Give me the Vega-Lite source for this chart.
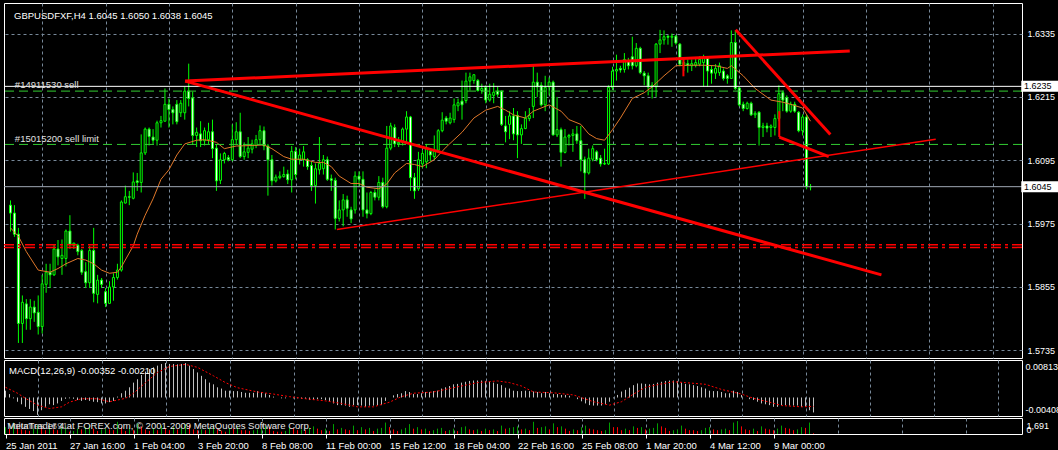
{
"$schema":"https://vega.github.io/schema/vega-lite/v6.json",
"background":"black",
"padding":{"left":2,"top":2,"right":0,"bottom":0},
"spacing":2,
"bounds":"flush",
"config":{
"view":{"stroke":"white","strokeWidth":1,"fill":"black"},
"font":"Liberation Sans",
"axis":{"labelColor":"white","labelFont":"Liberation Sans","labelFontSize":9,"gridColor":"#778899","gridDash":[3,3],"gridOpacity":1,"gridWidth":1,"domain":false,"ticks":false,"labelOverlap":false,"labelFlush":false,"labelBound":false},
"text":{"font":"Liberation Sans","fontSize":9.5}
},
"datasets":{
"bars":[
{"i":0,"o":1.6010,"h":1.6019,"l":1.5960,"c":1.5995,"m":0.0016,"v":900},
{"i":1,"o":1.5995,"h":1.6010,"l":1.5950,"c":1.5955,"m":0.0008,"v":700},
{"i":2,"o":1.5955,"h":1.5967,"l":1.5749,"c":1.5786,"m":-0.0002,"v":1500},
{"i":3,"o":1.5786,"h":1.5839,"l":1.5749,"c":1.5826,"m":-0.0010,"v":1100},
{"i":4,"o":1.5823,"h":1.5832,"l":1.5774,"c":1.5795,"m":-0.0016,"v":600},
{"i":5,"o":1.5795,"h":1.5832,"l":1.5774,"c":1.5817,"m":-0.0022,"v":500},
{"i":6,"o":1.5817,"h":1.5829,"l":1.5789,"c":1.5806,"m":-0.0027,"v":400},
{"i":7,"o":1.5807,"h":1.5839,"l":1.5765,"c":1.5780,"m":-0.0032,"v":700},
{"i":8,"o":1.5780,"h":1.5878,"l":1.5767,"c":1.5861,"m":-0.0041,"v":1200},
{"i":9,"o":1.5860,"h":1.5899,"l":1.5844,"c":1.5883,"m":-0.0030,"v":900},
{"i":10,"o":1.5883,"h":1.5899,"l":1.5853,"c":1.5878,"m":-0.0022,"v":500},
{"i":11,"o":1.5878,"h":1.5936,"l":1.5876,"c":1.5927,"m":-0.0016,"v":800},
{"i":12,"o":1.5927,"h":1.5944,"l":1.5896,"c":1.5912,"m":-0.0018,"v":600},
{"i":13,"o":1.5909,"h":1.5945,"l":1.5878,"c":1.5915,"m":-0.0014,"v":500},
{"i":14,"o":1.5909,"h":1.5964,"l":1.5894,"c":1.5961,"m":-0.0008,"v":900},
{"i":15,"o":1.5961,"h":1.5991,"l":1.5927,"c":1.5936,"m":-0.0003,"v":1000},
{"i":16,"o":1.5934,"h":1.5939,"l":1.5927,"c":1.5938,"m":-0.0002,"v":300},
{"i":17,"o":1.5934,"h":1.5937,"l":1.5915,"c":1.5922,"m":-0.0003,"v":400},
{"i":18,"o":1.5924,"h":1.5927,"l":1.5878,"c":1.5883,"m":-0.0006,"v":700},
{"i":19,"o":1.5884,"h":1.5902,"l":1.5853,"c":1.5863,"m":-0.0008,"v":600},
{"i":20,"o":1.5863,"h":1.5933,"l":1.5853,"c":1.5924,"m":-0.0006,"v":900},
{"i":21,"o":1.5924,"h":1.5967,"l":1.5826,"c":1.5843,"m":-0.0008,"v":1200},
{"i":22,"o":1.5841,"h":1.5878,"l":1.5824,"c":1.5868,"m":-0.0010,"v":700},
{"i":23,"o":1.5868,"h":1.5872,"l":1.5853,"c":1.5860,"m":-0.0011,"v":400},
{"i":24,"o":1.5846,"h":1.5853,"l":1.5817,"c":1.5824,"m":-0.0014,"v":600},
{"i":25,"o":1.5824,"h":1.5866,"l":1.5823,"c":1.5855,"m":-0.0014,"v":700},
{"i":26,"o":1.5855,"h":1.5881,"l":1.5829,"c":1.5873,"m":-0.0011,"v":600},
{"i":27,"o":1.5873,"h":1.5899,"l":1.5869,"c":1.5887,"m":-0.0008,"v":500},
{"i":28,"o":1.5887,"h":1.6019,"l":1.5884,"c":1.6016,"m":0.0002,"v":1600},
{"i":29,"o":1.6014,"h":1.6047,"l":1.6013,"c":1.6026,"m":0.0010,"v":900},
{"i":30,"o":1.6026,"h":1.6037,"l":1.6010,"c":1.6025,"m":0.0016,"v":400},
{"i":31,"o":1.6023,"h":1.6072,"l":1.6021,"c":1.6054,"m":0.0024,"v":800},
{"i":32,"o":1.6056,"h":1.6071,"l":1.6037,"c":1.6053,"m":0.0035,"v":500},
{"i":33,"o":1.6053,"h":1.6144,"l":1.6034,"c":1.6109,"m":0.0043,"v":1400},
{"i":34,"o":1.6109,"h":1.6157,"l":1.6105,"c":1.6154,"m":0.0053,"v":1000},
{"i":35,"o":1.6154,"h":1.6157,"l":1.6123,"c":1.6140,"m":0.0061,"v":600},
{"i":36,"o":1.6139,"h":1.6154,"l":1.6126,"c":1.6133,"m":0.0067,"v":400},
{"i":37,"o":1.6133,"h":1.6170,"l":1.6123,"c":1.6166,"m":0.0071,"v":800},
{"i":38,"o":1.6166,"h":1.6179,"l":1.6157,"c":1.6170,"m":0.0075,"v":500},
{"i":39,"o":1.6169,"h":1.6231,"l":1.6169,"c":1.6201,"m":0.0079,"v":1100},
{"i":40,"o":1.6201,"h":1.6212,"l":1.6157,"c":1.6191,"m":0.00813,"v":700},
{"i":41,"o":1.6191,"h":1.6197,"l":1.6163,"c":1.6185,"m":0.0079,"v":500},
{"i":42,"o":1.6201,"h":1.6209,"l":1.6163,"c":1.6168,"m":0.0079,"v":900},
{"i":43,"o":1.6185,"h":1.6209,"l":1.6177,"c":1.6203,"m":0.0078,"v":600},
{"i":44,"o":1.6185,"h":1.6234,"l":1.6172,"c":1.6226,"m":0.0079,"v":1000},
{"i":45,"o":1.6226,"h":1.6278,"l":1.6197,"c":1.6212,"m":0.0081,"v":1300},
{"i":46,"o":1.6213,"h":1.6225,"l":1.6124,"c":1.6142,"m":0.0075,"v":1200},
{"i":47,"o":1.6142,"h":1.6157,"l":1.6120,"c":1.6148,"m":0.0067,"v":600},
{"i":48,"o":1.6145,"h":1.6169,"l":1.6120,"c":1.6132,"m":0.0059,"v":500},
{"i":49,"o":1.6132,"h":1.6157,"l":1.6123,"c":1.6151,"m":0.0051,"v":600},
{"i":50,"o":1.6134,"h":1.6166,"l":1.6126,"c":1.6149,"m":0.0043,"v":500},
{"i":51,"o":1.6149,"h":1.6172,"l":1.6099,"c":1.6117,"m":0.0035,"v":800},
{"i":52,"o":1.6118,"h":1.6126,"l":1.6037,"c":1.6056,"m":0.0031,"v":1100},
{"i":53,"o":1.6057,"h":1.6108,"l":1.6050,"c":1.6096,"m":0.0024,"v":700},
{"i":54,"o":1.6096,"h":1.6111,"l":1.6089,"c":1.6108,"m":0.0021,"v":400},
{"i":55,"o":1.6100,"h":1.6105,"l":1.6093,"c":1.6096,"m":0.0016,"v":300},
{"i":56,"o":1.6096,"h":1.6163,"l":1.6093,"c":1.6134,"m":0.0016,"v":800},
{"i":57,"o":1.6134,"h":1.6167,"l":1.6126,"c":1.6149,"m":0.0015,"v":700},
{"i":58,"o":1.6149,"h":1.6185,"l":1.6099,"c":1.6102,"m":0.0015,"v":900},
{"i":59,"o":1.6102,"h":1.6129,"l":1.6096,"c":1.6111,"m":0.0013,"v":500},
{"i":60,"o":1.6110,"h":1.6139,"l":1.6099,"c":1.6118,"m":0.0011,"v":500},
{"i":61,"o":1.6116,"h":1.6134,"l":1.6108,"c":1.6126,"m":0.0011,"v":400},
{"i":62,"o":1.6123,"h":1.6143,"l":1.6118,"c":1.6134,"m":0.0011,"v":500},
{"i":63,"o":1.6134,"h":1.6161,"l":1.6126,"c":1.6151,"m":0.0015,"v":600},
{"i":64,"o":1.6151,"h":1.6159,"l":1.6114,"c":1.6122,"m":0.0013,"v":700},
{"i":65,"o":1.6122,"h":1.6126,"l":1.6028,"c":1.6096,"m":0.0010,"v":1000},
{"i":66,"o":1.6096,"h":1.6105,"l":1.6047,"c":1.6056,"m":0.0006,"v":900},
{"i":67,"o":1.6056,"h":1.6068,"l":1.6053,"c":1.6063,"m":0.0002,"v":400},
{"i":68,"o":1.6062,"h":1.6074,"l":1.6059,"c":1.6065,"m":0.0000,"v":300},
{"i":69,"o":1.6064,"h":1.6083,"l":1.6062,"c":1.6068,"m":-0.0002,"v":300},
{"i":70,"o":1.6069,"h":1.6077,"l":1.6050,"c":1.6058,"m":-0.0002,"v":400},
{"i":71,"o":1.6058,"h":1.6122,"l":1.6034,"c":1.6112,"m":0.0000,"v":900},
{"i":72,"o":1.6112,"h":1.6120,"l":1.6059,"c":1.6068,"m":-0.0002,"v":800},
{"i":73,"o":1.6096,"h":1.6117,"l":1.6087,"c":1.6105,"m":-0.0002,"v":500},
{"i":74,"o":1.6096,"h":1.6122,"l":1.6083,"c":1.6111,"m":-0.0003,"v":600},
{"i":75,"o":1.6096,"h":1.6099,"l":1.6077,"c":1.6083,"m":-0.0003,"v":500},
{"i":76,"o":1.6085,"h":1.6093,"l":1.6037,"c":1.6047,"m":-0.0006,"v":800},
{"i":77,"o":1.6047,"h":1.6089,"l":1.6013,"c":1.6079,"m":-0.0006,"v":1000},
{"i":78,"o":1.6077,"h":1.6139,"l":1.6068,"c":1.6089,"m":-0.0004,"v":700},
{"i":79,"o":1.6079,"h":1.6105,"l":1.6068,"c":1.6096,"m":-0.0004,"v":500},
{"i":80,"o":1.6096,"h":1.6102,"l":1.6056,"c":1.6059,"m":-0.0006,"v":700},
{"i":81,"o":1.6060,"h":1.6068,"l":1.6037,"c":1.6057,"m":-0.0008,"v":400},
{"i":82,"o":1.6057,"h":1.6062,"l":1.5964,"c":1.5985,"m":-0.0014,"v":1300},
{"i":83,"o":1.5985,"h":1.6019,"l":1.5979,"c":1.6001,"m":-0.0018,"v":600},
{"i":84,"o":1.6001,"h":1.6031,"l":1.5970,"c":1.6020,"m":-0.0018,"v":800},
{"i":85,"o":1.6020,"h":1.6028,"l":1.5988,"c":1.6004,"m":-0.0019,"v":600},
{"i":86,"o":1.6001,"h":1.6007,"l":1.5976,"c":1.5984,"m":-0.0022,"v":500},
{"i":87,"o":1.6001,"h":1.6074,"l":1.5994,"c":1.6065,"m":-0.0018,"v":1100},
{"i":88,"o":1.6065,"h":1.6074,"l":1.6044,"c":1.6059,"m":-0.0018,"v":500},
{"i":89,"o":1.6059,"h":1.6074,"l":1.5988,"c":1.6001,"m":-0.0019,"v":900},
{"i":90,"o":1.6001,"h":1.6034,"l":1.5985,"c":1.5994,"m":-0.0022,"v":600},
{"i":91,"o":1.5994,"h":1.6037,"l":1.5991,"c":1.6034,"m":-0.0019,"v":800},
{"i":92,"o":1.6034,"h":1.6040,"l":1.6019,"c":1.6025,"m":-0.0019,"v":400},
{"i":93,"o":1.6025,"h":1.6065,"l":1.6019,"c":1.6053,"m":-0.0018,"v":700},
{"i":94,"o":1.6053,"h":1.6062,"l":1.6004,"c":1.6007,"m":-0.0018,"v":800},
{"i":95,"o":1.6007,"h":1.6160,"l":1.6004,"c":1.6118,"m":-0.0008,"v":1500},
{"i":96,"o":1.6118,"h":1.6166,"l":1.6114,"c":1.6160,"m":0.0000,"v":900},
{"i":97,"o":1.6157,"h":1.6163,"l":1.6120,"c":1.6126,"m":0.0005,"v":600},
{"i":98,"o":1.6126,"h":1.6139,"l":1.6120,"c":1.6129,"m":0.0008,"v":400},
{"i":99,"o":1.6129,"h":1.6157,"l":1.6123,"c":1.6154,"m":0.0010,"v":600},
{"i":100,"o":1.6154,"h":1.6188,"l":1.6129,"c":1.6177,"m":0.0015,"v":800},
{"i":101,"o":1.6177,"h":1.6179,"l":1.6037,"c":1.6062,"m":0.0013,"v":1300},
{"i":102,"o":1.6062,"h":1.6071,"l":1.6022,"c":1.6037,"m":0.0008,"v":700},
{"i":103,"o":1.6041,"h":1.6111,"l":1.6037,"c":1.6096,"m":0.0008,"v":900},
{"i":104,"o":1.6088,"h":1.6114,"l":1.6080,"c":1.6108,"m":0.0010,"v":600},
{"i":105,"o":1.6092,"h":1.6126,"l":1.6080,"c":1.6118,"m":0.0013,"v":700},
{"i":106,"o":1.6112,"h":1.6118,"l":1.6093,"c":1.6105,"m":0.0013,"v":400},
{"i":107,"o":1.6102,"h":1.6142,"l":1.6096,"c":1.6114,"m":0.0015,"v":500},
{"i":108,"o":1.6114,"h":1.6154,"l":1.6111,"c":1.6151,"m":0.0016,"v":700},
{"i":109,"o":1.6151,"h":1.6186,"l":1.6148,"c":1.6171,"m":0.0021,"v":800},
{"i":110,"o":1.6175,"h":1.6179,"l":1.6163,"c":1.6169,"m":0.0024,"v":400},
{"i":111,"o":1.6166,"h":1.6185,"l":1.6163,"c":1.6175,"m":0.0027,"v":500},
{"i":112,"o":1.6172,"h":1.6212,"l":1.6166,"c":1.6200,"m":0.0031,"v":700},
{"i":113,"o":1.6198,"h":1.6212,"l":1.6188,"c":1.6204,"m":0.0032,"v":400},
{"i":114,"o":1.6207,"h":1.6246,"l":1.6172,"c":1.6200,"m":0.0035,"v":900},
{"i":115,"o":1.6208,"h":1.6261,"l":1.6203,"c":1.6245,"m":0.0037,"v":1000},
{"i":116,"o":1.6245,"h":1.6261,"l":1.6227,"c":1.6253,"m":0.0039,"v":600},
{"i":117,"o":1.6246,"h":1.6258,"l":1.6240,"c":1.6257,"m":0.0040,"v":500},
{"i":118,"o":1.6246,"h":1.6249,"l":1.6225,"c":1.6227,"m":0.0040,"v":600},
{"i":119,"o":1.6227,"h":1.6240,"l":1.6221,"c":1.6231,"m":0.0040,"v":400},
{"i":120,"o":1.6233,"h":1.6237,"l":1.6203,"c":1.6209,"m":0.0039,"v":700},
{"i":121,"o":1.6209,"h":1.6240,"l":1.6206,"c":1.6220,"m":0.0037,"v":500},
{"i":122,"o":1.6218,"h":1.6241,"l":1.6203,"c":1.6224,"m":0.0035,"v":600},
{"i":123,"o":1.6226,"h":1.6234,"l":1.6215,"c":1.6220,"m":0.0032,"v":400},
{"i":124,"o":1.6226,"h":1.6227,"l":1.6160,"c":1.6163,"m":0.0029,"v":1100},
{"i":125,"o":1.6160,"h":1.6179,"l":1.6129,"c":1.6149,"m":0.0023,"v":700},
{"i":126,"o":1.6163,"h":1.6188,"l":1.6135,"c":1.6179,"m":0.0021,"v":800},
{"i":127,"o":1.6179,"h":1.6194,"l":1.6133,"c":1.6145,"m":0.0016,"v":900},
{"i":128,"o":1.6180,"h":1.6188,"l":1.6099,"c":1.6143,"m":0.0015,"v":1000},
{"i":129,"o":1.6143,"h":1.6163,"l":1.6126,"c":1.6155,"m":0.0015,"v":600},
{"i":130,"o":1.6155,"h":1.6188,"l":1.6154,"c":1.6175,"m":0.0016,"v":700},
{"i":131,"o":1.6174,"h":1.6194,"l":1.6169,"c":1.6180,"m":0.0015,"v":500},
{"i":132,"o":1.6197,"h":1.6274,"l":1.6175,"c":1.6243,"m":0.0014,"v":1600},
{"i":133,"o":1.6243,"h":1.6261,"l":1.6215,"c":1.6234,"m":0.0013,"v":800},
{"i":134,"o":1.6237,"h":1.6243,"l":1.6197,"c":1.6200,"m":0.0010,"v":900},
{"i":135,"o":1.6200,"h":1.6255,"l":1.6188,"c":1.6233,"m":0.0013,"v":1000},
{"i":136,"o":1.6234,"h":1.6252,"l":1.6218,"c":1.6243,"m":0.0010,"v":600},
{"i":137,"o":1.6243,"h":1.6246,"l":1.6142,"c":1.6143,"m":0.0008,"v":1400},
{"i":138,"o":1.6143,"h":1.6215,"l":1.6139,"c":1.6153,"m":0.0008,"v":900},
{"i":139,"o":1.6153,"h":1.6157,"l":1.6083,"c":1.6110,"m":0.0006,"v":1000},
{"i":140,"o":1.6110,"h":1.6154,"l":1.6108,"c":1.6139,"m":0.0006,"v":700},
{"i":141,"o":1.6139,"h":1.6145,"l":1.6123,"c":1.6142,"m":0.0004,"v":400},
{"i":142,"o":1.6142,"h":1.6154,"l":1.6111,"c":1.6145,"m":0.0000,"v":600},
{"i":143,"o":1.6145,"h":1.6160,"l":1.6126,"c":1.6132,"m":-0.0004,"v":500},
{"i":144,"o":1.6132,"h":1.6160,"l":1.6074,"c":1.6096,"m":-0.0009,"v":900},
{"i":145,"o":1.6096,"h":1.6102,"l":1.6022,"c":1.6071,"m":-0.0014,"v":1100},
{"i":146,"o":1.6071,"h":1.6117,"l":1.6068,"c":1.6099,"m":-0.0018,"v":700},
{"i":147,"o":1.6097,"h":1.6123,"l":1.6093,"c":1.6117,"m":-0.0019,"v":600},
{"i":148,"o":1.6111,"h":1.6114,"l":1.6093,"c":1.6096,"m":-0.0019,"v":500},
{"i":149,"o":1.6099,"h":1.6105,"l":1.6083,"c":1.6088,"m":-0.0019,"v":400},
{"i":150,"o":1.6088,"h":1.6117,"l":1.6086,"c":1.6089,"m":-0.0016,"v":500},
{"i":151,"o":1.6088,"h":1.6237,"l":1.6086,"c":1.6233,"m":-0.0010,"v":1500},
{"i":152,"o":1.6233,"h":1.6272,"l":1.6228,"c":1.6264,"m":-0.0002,"v":900},
{"i":153,"o":1.6264,"h":1.6295,"l":1.6246,"c":1.6267,"m":0.0006,"v":900},
{"i":154,"o":1.6269,"h":1.6274,"l":1.6261,"c":1.6266,"m":0.0014,"v":500},
{"i":155,"o":1.6267,"h":1.6298,"l":1.6261,"c":1.6286,"m":0.0018,"v":700},
{"i":156,"o":1.6283,"h":1.6289,"l":1.6267,"c":1.6274,"m":0.0023,"v":500},
{"i":157,"o":1.6291,"h":1.6329,"l":1.6267,"c":1.6274,"m":0.0029,"v":1000},
{"i":158,"o":1.6274,"h":1.6317,"l":1.6271,"c":1.6307,"m":0.0033,"v":800},
{"i":159,"o":1.6307,"h":1.6310,"l":1.6258,"c":1.6261,"m":0.0033,"v":900},
{"i":160,"o":1.6260,"h":1.6264,"l":1.6237,"c":1.6255,"m":0.0032,"v":600},
{"i":161,"o":1.6255,"h":1.6261,"l":1.6218,"c":1.6234,"m":0.0031,"v":700},
{"i":162,"o":1.6234,"h":1.6243,"l":1.6212,"c":1.6237,"m":0.0032,"v":800},
{"i":163,"o":1.6234,"h":1.6317,"l":1.6215,"c":1.6315,"m":0.0035,"v":1400},
{"i":164,"o":1.6315,"h":1.6342,"l":1.6298,"c":1.6323,"m":0.0037,"v":1000},
{"i":165,"o":1.6323,"h":1.6341,"l":1.6314,"c":1.6329,"m":0.0039,"v":800},
{"i":166,"o":1.6330,"h":1.6332,"l":1.6314,"c":1.6328,"m":0.0040,"v":400},
{"i":167,"o":1.6328,"h":1.6335,"l":1.6310,"c":1.6330,"m":0.0040,"v":500},
{"i":168,"o":1.6330,"h":1.6332,"l":1.6314,"c":1.6317,"m":0.0039,"v":600},
{"i":169,"o":1.6315,"h":1.6317,"l":1.6273,"c":1.6277,"m":0.0035,"v":1100},
{"i":170,"o":1.6274,"h":1.6286,"l":1.6264,"c":1.6280,"m":0.0032,"v":700},
{"i":171,"o":1.6278,"h":1.6286,"l":1.6261,"c":1.6275,"m":0.0031,"v":500},
{"i":172,"o":1.6274,"h":1.6286,"l":1.6264,"c":1.6278,"m":0.0029,"v":500},
{"i":173,"o":1.6275,"h":1.6289,"l":1.6271,"c":1.6280,"m":0.0027,"v":400},
{"i":174,"o":1.6277,"h":1.6292,"l":1.6273,"c":1.6286,"m":0.0024,"v":500},
{"i":175,"o":1.6280,"h":1.6295,"l":1.6234,"c":1.6289,"m":0.0021,"v":800},
{"i":176,"o":1.6289,"h":1.6292,"l":1.6234,"c":1.6264,"m":0.0016,"v":900},
{"i":177,"o":1.6267,"h":1.6274,"l":1.6240,"c":1.6260,"m":0.0015,"v":600},
{"i":178,"o":1.6260,"h":1.6277,"l":1.6249,"c":1.6269,"m":0.0015,"v":500},
{"i":179,"o":1.6261,"h":1.6280,"l":1.6255,"c":1.6274,"m":0.0013,"v":600},
{"i":180,"o":1.6264,"h":1.6269,"l":1.6246,"c":1.6250,"m":0.0010,"v":700},
{"i":181,"o":1.6255,"h":1.6258,"l":1.6240,"c":1.6250,"m":0.0010,"v":500},
{"i":182,"o":1.6250,"h":1.6341,"l":1.6249,"c":1.6318,"m":0.0016,"v":1500},
{"i":183,"o":1.6318,"h":1.6341,"l":1.6228,"c":1.6231,"m":0.0013,"v":1691},
{"i":184,"o":1.6232,"h":1.6234,"l":1.6197,"c":1.6200,"m":0.0006,"v":1000},
{"i":185,"o":1.6201,"h":1.6206,"l":1.6188,"c":1.6193,"m":0.0000,"v":600},
{"i":186,"o":1.6193,"h":1.6206,"l":1.6191,"c":1.6203,"m":-0.0004,"v":500},
{"i":187,"o":1.6203,"h":1.6206,"l":1.6179,"c":1.6181,"m":-0.0006,"v":700},
{"i":188,"o":1.6181,"h":1.6188,"l":1.6175,"c":1.6184,"m":-0.0010,"v":400},
{"i":189,"o":1.6186,"h":1.6188,"l":1.6123,"c":1.6157,"m":-0.0014,"v":1000},
{"i":190,"o":1.6157,"h":1.6166,"l":1.6139,"c":1.6160,"m":-0.0016,"v":700},
{"i":191,"o":1.6160,"h":1.6166,"l":1.6148,"c":1.6156,"m":-0.0018,"v":600},
{"i":192,"o":1.6157,"h":1.6163,"l":1.6139,"c":1.6160,"m":-0.0022,"v":500},
{"i":193,"o":1.6157,"h":1.6182,"l":1.6142,"c":1.6174,"m":-0.0022,"v":700},
{"i":194,"o":1.6174,"h":1.6237,"l":1.6169,"c":1.6221,"m":-0.0018,"v":1100},
{"i":195,"o":1.6223,"h":1.6227,"l":1.6188,"c":1.6209,"m":-0.0018,"v":800},
{"i":196,"o":1.6214,"h":1.6218,"l":1.6185,"c":1.6188,"m":-0.0019,"v":700},
{"i":197,"o":1.6188,"h":1.6206,"l":1.6185,"c":1.6201,"m":-0.0019,"v":500},
{"i":198,"o":1.6201,"h":1.6206,"l":1.6185,"c":1.6188,"m":-0.0019,"v":600},
{"i":199,"o":1.6186,"h":1.6188,"l":1.6148,"c":1.6151,"m":-0.0022,"v":900},
{"i":200,"o":1.6151,"h":1.6182,"l":1.6142,"c":1.6177,"m":-0.0022,"v":800},
{"i":201,"o":1.6177,"h":1.6182,"l":1.6040,"c":1.6045,"m":-0.0030,"v":1500},
{"i":202,"o":1.6045,"h":1.6050,"l":1.6038,"c":1.6045,"m":-0.00352,"v":100}
],
"ma":[
{"i":0,"v":1.5967},{"i":2,"v":1.5951},{"i":4,"v":1.5922},{"i":7,"v":1.5887},{"i":10,"v":1.5883},{"i":12,"v":1.5890},{"i":14,"v":1.5899},{"i":17,"v":1.5909},{"i":19,"v":1.5906},{"i":21,"v":1.5899},{"i":23,"v":1.5887},{"i":25,"v":1.5881},{"i":27,"v":1.5883},{"i":28,"v":1.5893},{"i":31,"v":1.5933},{"i":32,"v":1.5955},{"i":34,"v":1.5991},{"i":36,"v":1.6022},{"i":38,"v":1.6059},{"i":40,"v":1.6077},{"i":42,"v":1.6105},{"i":44,"v":1.6126},{"i":47,"v":1.6133},{"i":49,"v":1.6134},{"i":52,"v":1.6129},{"i":54,"v":1.6117},{"i":57,"v":1.6122},{"i":61,"v":1.6123},{"i":64,"v":1.6124},{"i":66,"v":1.6117},{"i":69,"v":1.6102},{"i":71,"v":1.6097},{"i":74,"v":1.6097},{"i":77,"v":1.6091},{"i":79,"v":1.6091},{"i":81,"v":1.6083},{"i":83,"v":1.6065},{"i":86,"v":1.6051},{"i":88,"v":1.6051},{"i":90,"v":1.6044},{"i":93,"v":1.6041},{"i":95,"v":1.6050},{"i":97,"v":1.6071},{"i":100,"v":1.6089},{"i":102,"v":1.6087},{"i":104,"v":1.6083},{"i":107,"v":1.6096},{"i":110,"v":1.6120},{"i":114,"v":1.6148},{"i":117,"v":1.6175},{"i":120,"v":1.6190},{"i":123,"v":1.6197},{"i":125,"v":1.6190},{"i":127,"v":1.6181},{"i":130,"v":1.6175},{"i":132,"v":1.6188},{"i":136,"v":1.6200},{"i":139,"v":1.6188},{"i":141,"v":1.6172},{"i":144,"v":1.6163},{"i":146,"v":1.6145},{"i":148,"v":1.6136},{"i":150,"v":1.6133},{"i":152,"v":1.6153},{"i":154,"v":1.6175},{"i":157,"v":1.6212},{"i":160,"v":1.6223},{"i":162,"v":1.6234},{"i":165,"v":1.6255},{"i":168,"v":1.6274},{"i":172,"v":1.6275},{"i":175,"v":1.6275},{"i":178,"v":1.6274},{"i":181,"v":1.6269},{"i":182,"v":1.6274},{"i":185,"v":1.6255},{"i":188,"v":1.6231},{"i":192,"v":1.6209},{"i":195,"v":1.6205},{"i":197,"v":1.6201},{"i":200,"v":1.6194},{"i":202,"v":1.6169}
],
"sig":[
{"i":0,"s":0.0024},{"i":3,"s":0.0010},{"i":5,"s":-0.0002},{"i":8,"s":-0.0018},{"i":11,"s":-0.0026},{"i":14,"s":-0.0022},{"i":16,"s":-0.0011},{"i":19,"s":-0.0003},{"i":23,"s":-0.0003},{"i":26,"s":-0.0010},{"i":30,"s":-0.0002},{"i":32,"s":0.0010},{"i":35,"s":0.0035},{"i":38,"s":0.0059},{"i":41,"s":0.0073},{"i":45,"s":0.0078},{"i":48,"s":0.0071},{"i":52,"s":0.0051},{"i":55,"s":0.0035},{"i":58,"s":0.0023},{"i":63,"s":0.0013},{"i":67,"s":0.0008},{"i":71,"s":0.0002},{"i":75,"s":-0.0003},{"i":80,"s":-0.0008},{"i":84,"s":-0.0014},{"i":88,"s":-0.0022},{"i":92,"s":-0.0022},{"i":96,"s":-0.0011},{"i":99,"s":0.0002},{"i":102,"s":0.0010},{"i":107,"s":0.0013},{"i":112,"s":0.0023},{"i":118,"s":0.0035},{"i":123,"s":0.0039},{"i":126,"s":0.0035},{"i":129,"s":0.0027},{"i":132,"s":0.0013},{"i":137,"s":0.0011},{"i":142,"s":0.0006},{"i":147,"s":-0.0010},{"i":151,"s":-0.0018},{"i":154,"s":-0.0010},{"i":157,"s":0.0008},{"i":160,"s":0.0024},{"i":164,"s":0.0032},{"i":167,"s":0.0037},{"i":170,"s":0.0035},{"i":175,"s":0.0031},{"i":179,"s":0.0019},{"i":184,"s":0.0008},{"i":187,"s":-0.0002},{"i":191,"s":-0.0011},{"i":194,"s":-0.0019},{"i":199,"s":-0.0022},{"i":202,"s":-0.0021}
],
"levels":[{"k":"order","p":1.6235},{"k":"bid","p":1.6045},{"k":"tp","p":1.6226},{"k":"tp","p":1.6125},{"k":"sl","p":1.5935},{"k":"sl","p":1.5930}],
"thick":[{"id":"a","i":44.1,"p":1.6245},{"id":"a","i":211.9,"p":1.6302},{"id":"b","i":44.1,"p":1.6245},{"id":"b","i":219.9,"p":1.5878},{"id":"c","i":183.1,"p":1.6342},{"id":"c","i":207.0,"p":1.6144},{"id":"d","i":194.1,"p":1.6139},{"id":"d","i":206.6,"p":1.6102}],
"thin":[{"id":"e","i":82.4,"p":1.5964},{"id":"e","i":233.6,"p":1.6135}],
"marks":[{"i":169.9,"p1":1.6288,"p2":1.6254},{"i":194.1,"p1":1.6188,"p2":1.6139}],
"notes":[{"t":"#14911530 sell","p":1.6238},{"t":"#15015200 sell limit","p":1.6135}],
"tags":[{"t":"1.6235","p":1.6235},{"t":"1.6045","p":1.6045}]
},
"vconcat":[
{
"width":1018,"height":355,
"layer":[
{"data":{"name":"bars"},"mark":{"type":"rule","color":"#00ff00","strokeWidth":1},
"encoding":{
"x":{"field":"i","type":"quantitative","title":null,"scale":{"domain":[-0.375,254.125],"nice":false,"zero":false},"axis":{"values":[8,16,24,32,40,48,56,64,72,80,88,96,104,112,120,128,136,144,152,160,168,176,184,192,200,208,216,224,232,240,248],"labels":false,"ticks":false,"domain":false,"grid":true}},
"y":{"field":"l","type":"quantitative","title":null,"scale":{"domain":[1.573,1.63834],"nice":false,"zero":false},"axis":{"orient":"right","values":[1.5735,1.5795,1.5855,1.5915,1.5975,1.6035,1.6095,1.6155,1.6215,1.6275,1.6335],"format":".4f","grid":true,"labelPadding":5}},
"y2":{"field":"h"}}},
{"data":{"name":"bars"},"mark":{"type":"bar","width":2,"stroke":"#00ff00","strokeWidth":1},
"encoding":{"x":{"field":"i","type":"quantitative","title":null},"y":{"field":"o","type":"quantitative","title":null},"y2":{"field":"c"},
"fill":{"condition":{"test":"datum.c < datum.o","value":"white"},"value":"black"}}},
{"data":{"name":"ma"},"mark":{"type":"line","color":"#e0782a","strokeWidth":1},
"encoding":{"x":{"field":"i","type":"quantitative","title":null},"y":{"field":"v","type":"quantitative","title":null}}},
{"data":{"name":"levels"},"transform":[{"filter":"datum.k == 'tp'"}],"mark":{"type":"rule","color":"#32cd32","strokeWidth":1,"strokeDash":[9,5]},
"encoding":{"y":{"field":"p","type":"quantitative","title":null}}},
{"data":{"name":"levels"},"transform":[{"filter":"datum.k == 'sl'"}],"mark":{"type":"rule","color":"#ff0000","strokeWidth":1.5,"strokeDash":[10,4,3,4]},
"encoding":{"y":{"field":"p","type":"quantitative","title":null}}},
{"data":{"name":"levels"},"transform":[{"filter":"datum.k == 'bid'"}],"mark":{"type":"rule","color":"#a0a8b4","strokeWidth":1},
"encoding":{"y":{"field":"p","type":"quantitative","title":null}}},
{"data":{"name":"levels"},"transform":[{"filter":"datum.k == 'order'"}],"mark":{"type":"rule","color":"white","strokeWidth":1},
"encoding":{"y":{"field":"p","type":"quantitative","title":null}}},
{"data":{"name":"thick"},"mark":{"type":"line","color":"#ff0000","strokeWidth":3},
"encoding":{"x":{"field":"i","type":"quantitative","title":null},"y":{"field":"p","type":"quantitative","title":null},"detail":{"field":"id"}}},
{"data":{"name":"thin"},"mark":{"type":"line","color":"#ff0000","strokeWidth":1.5},
"encoding":{"x":{"field":"i","type":"quantitative","title":null},"y":{"field":"p","type":"quantitative","title":null},"detail":{"field":"id"}}},
{"data":{"name":"marks"},"mark":{"type":"rule","color":"#ff0000","strokeWidth":2},
"encoding":{"x":{"field":"i","type":"quantitative","title":null},"y":{"field":"p1","type":"quantitative","title":null},"y2":{"field":"p2"}}},
{"data":{"name":"notes"},"mark":{"type":"text","align":"left","baseline":"middle","color":"#e0e0e0","fontSize":9.5},
"encoding":{"text":{"field":"t"},"x":{"datum":1.1},"y":{"field":"p","type":"quantitative","title":null}}},
{"data":{"values":[{"t":"GBPUSDFXF,H4  1.6045 1.6050 1.6038 1.6045"}]},"mark":{"type":"text","align":"left","baseline":"middle","color":"white","fontSize":9.5},
"encoding":{"text":{"field":"t"},"x":{"datum":0.9},"y":{"datum":1.6369}}},
{"data":{"name":"tags"},"mark":{"type":"bar","height":11,"color":"white"},
"encoding":{"x":{"datum":255.2},"x2":{"datum":265},"y":{"field":"p","type":"quantitative","title":null}}},
{"data":{"name":"tags"},"mark":{"type":"text","align":"left","baseline":"middle","color":"black","fontSize":9},
"encoding":{"text":{"field":"t"},"x":{"datum":255.9},"y":{"field":"p","type":"quantitative","title":null}}}
]
},
{
"width":1018,"height":56,
"layer":[
{"data":{"name":"bars"},"mark":{"type":"rule","color":"#c0c0c0","strokeWidth":1},
"encoding":{
"x":{"field":"i","type":"quantitative","title":null,"scale":{"domain":[-0.375,254.125],"nice":false,"zero":false},"axis":{"values":[8,16,24,32,40,48,56,64,72,80,88,96,104,112,120,128,136,144,152,160,168,176,184,192,200,208,216,224,232,240,248],"labels":false,"ticks":false,"domain":false,"grid":true}},
"y":{"field":"m","type":"quantitative","title":null,"scale":{"domain":[-0.00436,0.00883],"nice":false,"zero":false},"axis":{"orient":"right","values":[0.00813,0,-0.00408],"labelExpr":"datum.value > 0.001 ? '0.00813' : (datum.value < -0.001 ? '-0.00408' : '0.00')","labelBaseline":{"expr":"datum.value > 0.001 ? 'top' : (datum.value < -0.001 ? 'bottom' : 'middle')"},"grid":true,"gridOpacity":{"condition":{"test":"datum.value == 0","value":1},"value":0},"labelPadding":3}},
"y2":{"datum":0}}},
{"data":{"name":"sig"},"mark":{"type":"line","color":"#ff0000","strokeWidth":1,"strokeDash":[2,2]},
"encoding":{"x":{"field":"i","type":"quantitative","title":null},"y":{"field":"s","type":"quantitative","title":null}}},
{"data":{"values":[{"t":"MACD(12,26,9) -0.00352 -0.00210"}]},"mark":{"type":"text","align":"left","baseline":"middle","color":"white","fontSize":9.5},
"encoding":{"text":{"field":"t"},"x":{"datum":0.9},"y":{"datum":0.00624}}}
]
},
{
"width":1018,"height":16,
"layer":[
{"data":{"name":"bars"},"transform":[{"window":[{"op":"lag","field":"v","as":"pv"}]}],"mark":{"type":"rule","strokeWidth":1},
"encoding":{
"x":{"field":"i","type":"quantitative","title":null,"scale":{"domain":[-0.375,254.125],"nice":false,"zero":false},"axis":{"values":[0,8,16,24,32,40,48,56,64,72,80,88,96,104,112,120,128,136,144,152,160,168,176,184,192,200,208,216,224,232,240,248],"labelExpr":"(['25 Jan 2011','','27 Jan 16:00','','1 Feb 04:00','','3 Feb 20:00','','8 Feb 08:00','','11 Feb 00:00','','15 Feb 12:00','','18 Feb 04:00','','22 Feb 16:00','','25 Feb 08:00','','1 Mar 20:00','','4 Mar 12:00','','9 Mar 00:00'])[round(datum.value/8)] || ''","labelAlign":"left","labelBaseline":"top","labelPadding":2,"labelFontSize":9.5,"ticks":true,"tickColor":"white","tickSize":4,"tickOpacity":{"condition":{"test":"datum.value % 16 == 0 && datum.value <= 192","value":1},"value":0},"domain":false,"grid":true,"gridOpacity":{"condition":{"test":"datum.value == 0","value":0},"value":1}}},
"y":{"field":"v","type":"quantitative","title":null,"scale":{"domain":[0,2100],"nice":false,"zero":false},"axis":{"orient":"right","values":[0,1691],"labelBaseline":{"expr":"datum.value > 0 ? 'top' : 'bottom'"},"grid":false,"labelPadding":4}},
"y2":{"datum":0},
"color":{"condition":{"test":"datum.v > datum.pv","value":"#00a000"},"value":"#ff0000"}}},
{"data":{"values":[{"t":"Volumes 1691"}]},"mark":{"type":"text","align":"left","baseline":"middle","color":"#a0a0a0","fontSize":9.5},
"encoding":{"text":{"field":"t"},"x":{"datum":0.5},"y":{"datum":1000}}},
{"data":{"values":[{"t":"MetaTrader 4 at FOREX.com, © 2001-2009 MetaQuotes Software Corp."}]},"mark":{"type":"text","align":"left","baseline":"middle","color":"#e8e8e8","fontSize":9.5},
"encoding":{"text":{"field":"t"},"x":{"datum":0.5},"y":{"datum":1000}}}
]
}
]
}
